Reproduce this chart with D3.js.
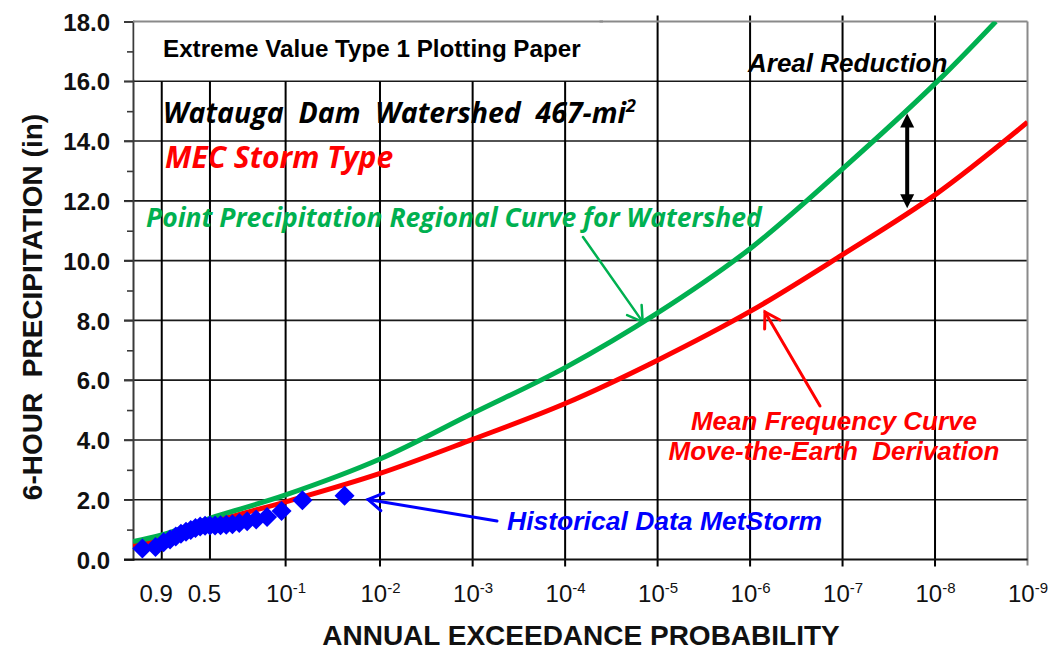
<!DOCTYPE html>
<html>
<head>
<meta charset="utf-8">
<script src="https://cdn.jsdelivr.net/npm/d3@7"></script>
<style>
  body { margin: 0; background: #fff; }
  svg { display: block; }
  text { white-space: pre; }
</style>
</head>
<body>
<svg id="chart" width="1061" height="652"></svg>
<script>
// ---- data -------------------------------------------------------------
// Point precipitation regional curve (in) by annual exceedance probability
const regionalProbs  = [0.991, 0.9, 0.5, 1e-1, 1e-2, 1e-3, 1e-4, 1e-5, 1e-6, 1e-7, 1e-8, 2.2e-9];
const regionalInches = [0.60, 0.82, 1.38, 2.16, 3.36, 4.89, 6.42, 8.25, 10.40, 13.07, 15.92, 18.00];

// Mean frequency curve, Move-the-Earth derivation (in)
const meanProbs  = [0.991, 0.9, 0.5, 1e-1, 1e-2, 1e-3, 1e-4, 1e-5, 1e-6, 1e-7, 1e-8, 1e-9];
const meanInches = [0.48, 0.70, 1.24, 1.93, 2.88, 4.02, 5.22, 6.67, 8.30, 10.20, 12.20, 14.63];

// Historical MetStorm events: plotting position and 6-hour depth (in)
const historicalProbs  = [0.024, 0.067, 0.11, 0.154, 0.197, 0.24, 0.284, 0.327, 0.37, 0.413, 0.457, 0.50,
                          0.543, 0.587, 0.63, 0.673, 0.716, 0.76, 0.803, 0.846, 0.889, 0.932, 0.976];
const historicalInches = [2.13, 1.98, 1.62, 1.42, 1.34, 1.28, 1.22, 1.18, 1.16, 1.15, 1.14, 1.14,
                          1.13, 1.10, 1.05, 0.99, 0.93, 0.86, 0.77, 0.67, 0.58, 0.42, 0.37];

// Probability axis ticks (label = base + superscript exponent)
const xTickProbs = [0.9, 0.5, 1e-1, 1e-2, 1e-3, 1e-4, 1e-5, 1e-6, 1e-7, 1e-8, 1e-9];
const xTickBase  = ["0.9", "0.5", "10", "10", "10", "10", "10", "10", "10", "10", "10"];
const xTickExp   = ["", "", "-1", "-2", "-3", "-4", "-5", "-6", "-7", "-8", "-9"];

// Depth axis ticks
const yMajorTicks = [0, 2, 4, 6, 8, 10, 12, 14, 16, 18];
const yMinorTicks = [1, 3, 5, 7, 9, 11, 13, 15, 17];

// ---- layout -------------------------------------------------------------
const svg = d3.select("#chart");
const plot = { left: 133, right: 1027.5, top: 21.5, bottom: 559.5 };
const ARIAL = "'Liberation Sans', Arial, Helvetica, sans-serif";
const SANS2 = "'Open Sans', 'Noto Sans', sans-serif";
const GREEN = "#00b050", RED = "#ff0000", BLUE = "#0000ff";

// Extreme Value Type 1 (Gumbel) reduced variate of an exceedance probability
const gumbel = p => -Math.log(-Math.log1p(-p));

const x = d3.scaleLinear()
  .domain([gumbel(0.991), gumbel(1e-9)])
  .range([plot.left, plot.right]);
const y = d3.scaleLinear()
  .domain([0, 18])
  .range([plot.bottom, plot.top]);
const xp = p => x(gumbel(p));

// ---- grid -----------------------------------------------------------------
const grid = svg.append("g");

// horizontal grid lines (major y ticks extend to the left of the axis)
grid.selectAll("line.h")
  .data(yMajorTicks.filter(v => v > 0 && v < 18))
  .join("line")
  .attr("x1", plot.left - 9).attr("x2", plot.right)
  .attr("y1", d => y(d)).attr("y2", d => y(d))
  .attr("stroke", "#1a1a1a").attr("stroke-width", 1.6);

// vertical probability lines
const innerProbs = xTickProbs.filter(p => p > 1e-9);
grid.selectAll("line.v")
  .data(innerProbs)
  .join("line")
  .attr("x1", d => xp(d)).attr("x2", d => xp(d))
  .attr("y1", d => d >= 1e-4 ? y(16) : plot.top - 6)
  .attr("y2", d => d >= 0.5 ? plot.bottom : plot.bottom + 7)
  .attr("stroke", "#000").attr("stroke-width", 2);

// frame: top and right borders in grey
svg.append("line")
  .attr("x1", plot.left).attr("x2", plot.right)
  .attr("y1", plot.top).attr("y2", plot.top)
  .attr("stroke", "#8a8a8a").attr("stroke-width", 2);
svg.append("line")
  .attr("x1", plot.right).attr("x2", plot.right)
  .attr("y1", plot.top).attr("y2", plot.bottom + 6)
  .attr("stroke", "#8a8a8a").attr("stroke-width", 2);

// ---- axes -------------------------------------------------------------------
const yAxis = svg.append("g")
  .attr("transform", `translate(${plot.left},0)`)
  .call(d3.axisLeft(y).tickValues(yMajorTicks).tickSize(9).tickPadding(14)
        .tickFormat(d3.format(".1f")));
yAxis.select(".domain").attr("stroke", "#3a3a3a").attr("stroke-width", 2);
yAxis.selectAll(".tick line").attr("stroke", "#3a3a3a").attr("stroke-width", 1.6);
yAxis.selectAll(".tick text")
  .attr("font-family", ARIAL).attr("font-weight", "bold").attr("font-size", 24)
  .attr("fill", "#111").attr("dy", "0.36em");

const yMinor = svg.append("g")
  .attr("transform", `translate(${plot.left},0)`)
  .call(d3.axisLeft(y).tickValues(yMinorTicks).tickSize(6).tickFormat(""));
yMinor.select(".domain").remove();
yMinor.selectAll(".tick line").attr("stroke", "#3a3a3a").attr("stroke-width", 1.6);

const xAxis = svg.append("g")
  .attr("transform", `translate(0,${plot.bottom})`)
  .call(d3.axisBottom(x).tickValues(xTickProbs.map(gumbel)).tickSize(0).tickPadding(26)
        .tickFormat(""));
xAxis.select(".domain").remove();
svg.append("line")
  .attr("x1", plot.left - 9).attr("x2", plot.right)
  .attr("y1", plot.bottom).attr("y2", plot.bottom)
  .attr("stroke", "#111").attr("stroke-width", 2);

xAxis.selectAll(".tick text")
  .attr("font-family", ARIAL).attr("font-size", 24).attr("fill", "#111")
  .attr("y", 42).attr("dy", 0)
  .attr("x", (d, i) => xTickExp[i] ? 0 : -6)
  .each(function(d, i) {
    const t = d3.select(this).text(null);
    t.append("tspan").text(xTickBase[i]);
    if (xTickExp[i]) {
      t.append("tspan").text(xTickExp[i])
        .attr("font-size", 15).attr("dy", -9);
    }
  });

// axis titles
svg.append("text")
  .attr("transform", "translate(42,307) rotate(-90)")
  .attr("text-anchor", "middle")
  .attr("font-family", ARIAL).attr("font-weight", "bold").attr("font-size", 28)
  .attr("fill", "#111")
  .text("6-HOUR  PRECIPITATION (in)");
svg.append("text")
  .attr("x", 581).attr("y", 645)
  .attr("text-anchor", "middle")
  .attr("font-family", ARIAL).attr("font-weight", "bold").attr("font-size", 28)
  .attr("fill", "#111")
  .text("ANNUAL EXCEEDANCE PROBABILITY");

// ---- title box in the upper-left of the paper --------------------------------
svg.append("rect")
  .attr("x", plot.left + 1.5).attr("y", plot.top - 8)
  .attr("width", 465).attr("height", y(16) - plot.top + 6.5)
  .attr("fill", "#fff");
svg.append("line")
  .attr("x1", plot.left).attr("x2", plot.left + 470)
  .attr("y1", plot.top).attr("y2", plot.top)
  .attr("stroke", "#8a8a8a").attr("stroke-width", 2);
svg.append("text")
  .attr("x", 163).attr("y", 57)
  .attr("font-family", ARIAL).attr("font-weight", "bold").attr("font-size", 24.2)
  .attr("fill", "#000")
  .text("Extreme Value Type 1 Plotting Paper");

// ---- curves --------------------------------------------------------------------
svg.append("clipPath").attr("id", "plotClip")
  .append("rect")
  .attr("x", plot.left).attr("y", plot.top)
  .attr("width", plot.right - plot.left).attr("height", plot.bottom - plot.top);

const line = d3.line()
  .x(d => xp(d[0])).y(d => y(d[1]))
  .curve(d3.curveCatmullRom.alpha(0.5));

const curves = svg.append("g").attr("clip-path", "url(#plotClip)");
curves.append("path")
  .datum(d3.zip(meanProbs, meanInches))
  .attr("d", line)
  .attr("fill", "none").attr("stroke", RED).attr("stroke-width", 5);
curves.append("path")
  .datum(d3.zip(regionalProbs, regionalInches))
  .attr("d", line)
  .attr("fill", "none").attr("stroke", GREEN).attr("stroke-width", 5);

// historical data diamonds
svg.append("g")
  .selectAll("path")
  .data(d3.zip(historicalProbs, historicalInches))
  .join("path")
  .attr("d", d3.symbol(d3.symbolSquare, 200))
  .attr("transform", d => `translate(${xp(d[0])},${y(d[1])}) rotate(45)`)
  .attr("fill", BLUE);

// ---- annotations -----------------------------------------------------------------
svg.append("text")
  .attr("x", 163).attr("y", 123)
  .attr("font-family", SANS2).attr("font-weight", "bold").attr("font-style", "italic")
  .attr("font-size", 28.5).attr("fill", "#000")
  .call(t => {
    t.append("tspan").text("Watauga  Dam  Watershed  467-mi");
    t.append("tspan").text("2").attr("font-size", 18).attr("dy", -11);
  });
svg.append("text")
  .attr("x", 165).attr("y", 168)
  .attr("font-family", SANS2).attr("font-weight", "bold").attr("font-style", "italic")
  .attr("font-size", 30).attr("fill", RED)
  .text("MEC Storm Type");
svg.append("text")
  .attr("x", 146).attr("y", 227)
  .attr("font-family", SANS2).attr("font-weight", "bold").attr("font-style", "italic")
  .attr("font-size", 26.5).attr("fill", GREEN)
  .text("Point Precipitation Regional Curve for Watershed");

svg.append("text")
  .attr("x", 748).attr("y", 72)
  .attr("font-family", ARIAL).attr("font-weight", "bold").attr("font-style", "italic")
  .attr("font-size", 26).attr("fill", "#000")
  .text("Areal Reduction");

svg.append("text")
  .attr("x", 834).attr("y", 430).attr("text-anchor", "middle")
  .attr("font-family", ARIAL).attr("font-weight", "bold").attr("font-style", "italic")
  .attr("font-size", 26).attr("fill", RED)
  .text("Mean Frequency Curve");
svg.append("text")
  .attr("x", 834).attr("y", 460).attr("text-anchor", "middle")
  .attr("font-family", ARIAL).attr("font-weight", "bold").attr("font-style", "italic")
  .attr("font-size", 26).attr("fill", RED)
  .text("Move-the-Earth  Derivation");

svg.append("text")
  .attr("x", 507).attr("y", 530)
  .attr("font-family", ARIAL).attr("font-weight", "bold").attr("font-style", "italic")
  .attr("font-size", 26.5).attr("fill", BLUE)
  .text("Historical Data MetStorm");

// open-headed pointer arrow from (x1,y1) to tip (x2,y2)
function pointer(x1, y1, x2, y2, color, width) {
  const g = svg.append("g").attr("stroke", color).attr("stroke-width", width)
    .attr("fill", "none").attr("stroke-linecap", "round");
  g.append("line").attr("x1", x1).attr("y1", y1).attr("x2", x2).attr("y2", y2);
  const a = Math.atan2(y1 - y2, x1 - x2), len = 17, spread = 0.55;
  g.append("path").attr("d",
    `M${x2 + len * Math.cos(a + spread)},${y2 + len * Math.sin(a + spread)}` +
    `L${x2},${y2}` +
    `L${x2 + len * Math.cos(a - spread)},${y2 + len * Math.sin(a - spread)}`);
}
pointer(583, 237, xp(1.45e-5), y(7.95), GREEN, 2.5);
pointer(820, 406, xp(6.9e-7), y(8.28), RED, 3);
pointer(497, 521, 368, 499.5, BLUE, 3);

// areal reduction double arrow between the two curves
{
  const ax = xp(2.0e-8), yTop = y(14.92), yBot = y(11.75);
  const g = svg.append("g");
  g.append("line").attr("x1", ax).attr("x2", ax)
    .attr("y1", yTop + 10).attr("y2", yBot - 10)
    .attr("stroke", "#000").attr("stroke-width", 4);
  g.append("path").attr("fill", "#000")
    .attr("d", `M${ax},${yTop} L${ax - 7},${yTop + 14} L${ax + 7},${yTop + 14} Z`);
  g.append("path").attr("fill", "#000")
    .attr("d", `M${ax},${yBot} L${ax - 7},${yBot - 14} L${ax + 7},${yBot - 14} Z`);
}
</script>
</body>
</html>
